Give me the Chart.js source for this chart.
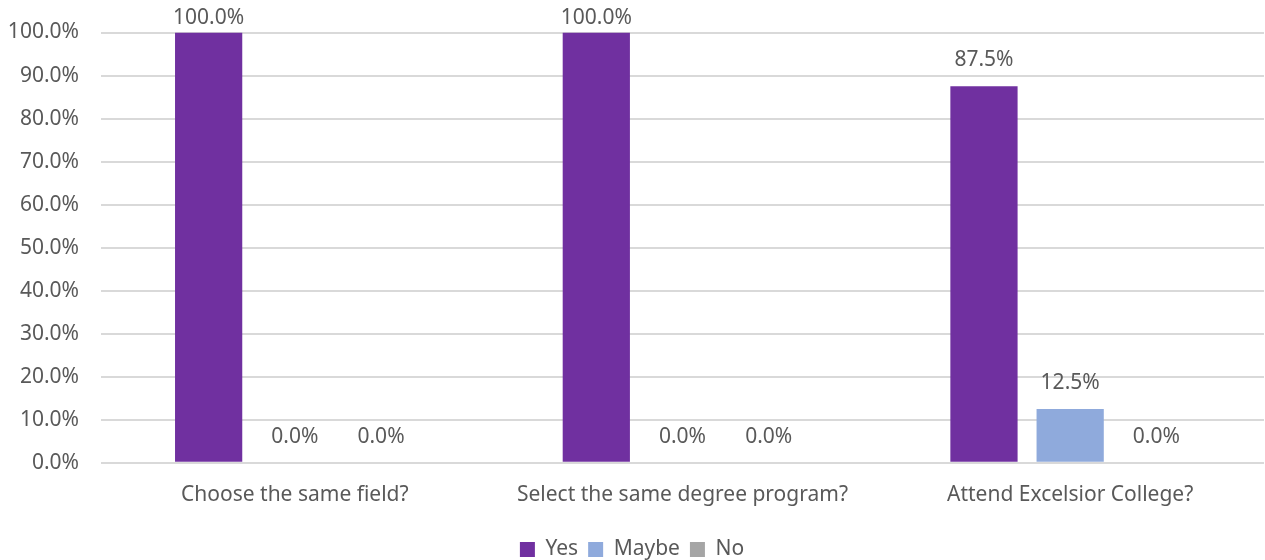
<!DOCTYPE html>
<html>
<head>
<meta charset="utf-8">
<script src="https://cdn.jsdelivr.net/npm/chart.js@4.4.0/dist/chart.umd.min.js"></script>
<style>
    html, body { margin: 0; padding: 0; background: #ffffff; }
    #wrap { width: 1265px; height: 560px; }
</style>
</head>
<body>
<div id="wrap"><canvas id="chart"></canvas></div>
<script>
// Chart data
const categories = ['Choose the same field?', 'Select the same degree program?', 'Attend Excelsior College?'];
const yesValues = [100.0, 100.0, 87.5];
const maybeValues = [0.0, 0.0, 12.5];
const noValues = [0.0, 0.0, 0.0];

const FONT = 'Noto Sans';
const TEXT_COLOR = '#595959';
const FONT_SIZE = 21;

// Draws value labels above each bar
const valueLabels = {
    id: 'valueLabels',
    afterDatasetsDraw(chart) {
        const ctx = chart.ctx;
        ctx.save();
        ctx.font = FONT_SIZE + 'px "' + FONT + '"';
        ctx.fillStyle = TEXT_COLOR;
        ctx.textAlign = 'center';
        ctx.textBaseline = 'middle';
        chart.data.datasets.forEach((ds, i) => {
            const meta = chart.getDatasetMeta(i);
            meta.data.forEach((bar, j) => {
                let y = bar.y - 26;
                if (y < 18) y = 18;
                ctx.fillText(ds.data[j].toFixed(1) + '%', bar.x, y);
            });
        });
        ctx.restore();
    }
};

const ctx = document.getElementById('chart').getContext('2d');
new Chart(ctx, {
    type: 'bar',
    data: {
        labels: categories,
        datasets: [
            { label: 'Yes', data: yesValues, backgroundColor: '#7030A0' },
            { label: 'Maybe', data: maybeValues, backgroundColor: '#8FAADC' },
            { label: 'No', data: noValues, backgroundColor: '#A5A5A5' }
        ]
    },
    options: {
        responsive: true,
        maintainAspectRatio: false,
        animation: false,
        categoryPercentage: 0.667,
        barPercentage: 0.78,
        layout: { padding: { top: 27, right: 1, bottom: -10, left: 0 } },
        plugins: {
            legend: {
                position: 'bottom',
                labels: {
                    boxWidth: 15,
                    boxHeight: 15,
                    padding: 10,
                    color: TEXT_COLOR,
                    font: { family: FONT, size: FONT_SIZE }
                }
            },
            tooltip: { enabled: false }
        },
        scales: {
            y: {
                min: 0,
                max: 100,
                afterFit: function(scale) { scale.width = 101; },
                ticks: {
                    stepSize: 10,
                    padding: 22,
                    color: TEXT_COLOR,
                    font: { family: FONT, size: FONT_SIZE, lineHeight: 1 },
                    callback: function(value) { return value.toFixed(1) + '%'; }
                },
                grid: { color: '#d9d9d9', lineWidth: 2, drawTicks: false },
                border: { display: false }
            },
            x: {
                afterFit: function(scale) { scale.height += 9; },
                ticks: {
                    padding: 12,
                    color: TEXT_COLOR,
                    font: { family: FONT, size: FONT_SIZE }
                },
                grid: { display: false },
                border: { display: false }
            }
        }
    },
    plugins: [valueLabels]
});
</script>
</body>
</html>
